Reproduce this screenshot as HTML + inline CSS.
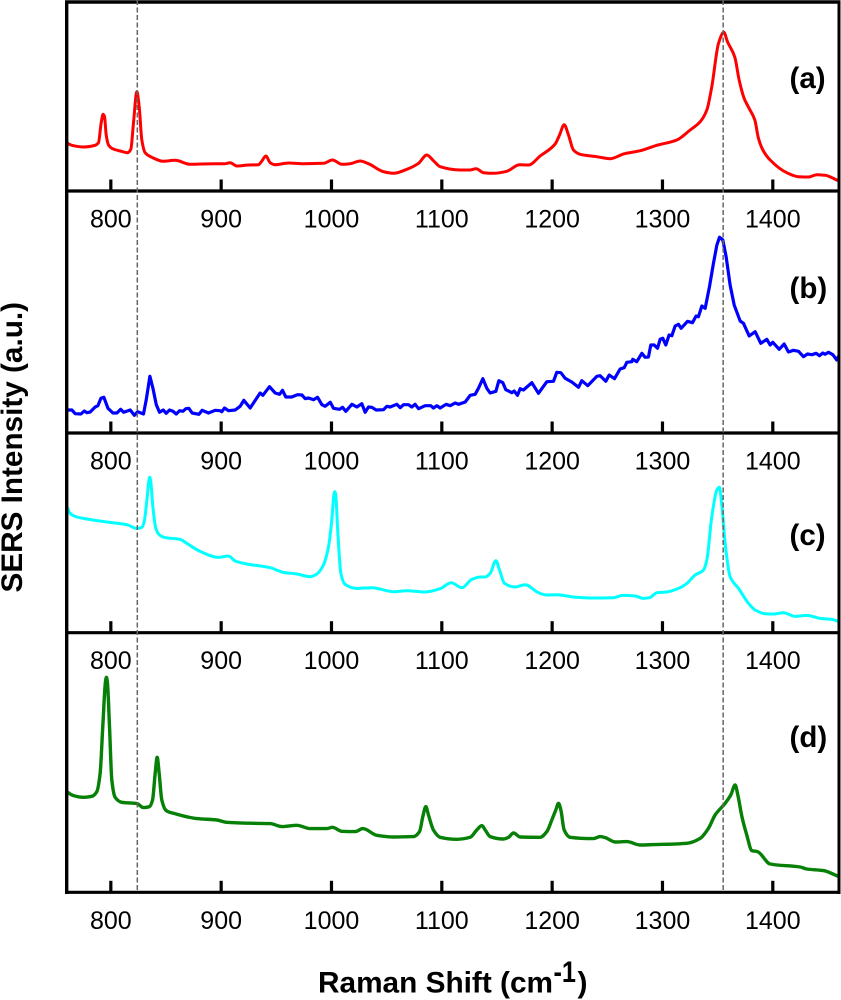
<!DOCTYPE html>
<html lang="en">
<head>
<meta charset="utf-8">
<title>SERS spectra</title>
<style>
html,body{margin:0;padding:0;background:#fff;}
#chart{display:block;width:841px;height:1000px;font-family:"Liberation Sans",Arial,sans-serif;filter:blur(0.3px);}
</style>
</head>
<body>
<svg id="chart" xmlns="http://www.w3.org/2000/svg" width="841" height="1000" viewBox="0 0 841 1000">
<rect x="0" y="0" width="841" height="1000" fill="#fff"/>
<g id="curves"></g>
<g id="frame"></g>
<g id="ticks"></g>
<g id="refs"></g>
<text x="789.5" y="88" font-size="29.5" font-weight="bold" fill="#000">(a)</text>
<text x="789.5" y="298" font-size="29.5" font-weight="bold" fill="#000">(b)</text>
<text x="789.5" y="545" font-size="29.5" font-weight="bold" fill="#000">(c)</text>
<text x="789.5" y="747" font-size="29.5" font-weight="bold" fill="#000">(d)</text>
<text font-weight="bold" fill="#000"><tspan x="318" y="992.5" font-size="29.5" textLength="235" lengthAdjust="spacingAndGlyphs">Raman Shift (cm</tspan><tspan x="553.5" y="982" font-size="30" textLength="22.5" lengthAdjust="spacingAndGlyphs">-1</tspan><tspan x="577.5" y="992.5" font-size="30">)</tspan></text>
<text transform="translate(22,592.5) rotate(-90)" x="0" y="0" font-size="30" font-weight="bold" fill="#000" textLength="290.5" lengthAdjust="spacingAndGlyphs">SERS Intensity (a.u.)</text>
</svg>
<script>
var tickValues = [800, 900, 1000, 1100, 1200, 1300, 1400];
var referenceShifts = [824, 1355];

var shiftA = [760.7,764.7,775.2,785.8,788.8,791.2,793,794.3,795.8,797.9,800.9,808.5,815.1,818.1,820.5,823.6,825.7,828.1,831.1,837.2,847.7,858.3,871.9,893,903.6,908.2,914.2,924.8,933.8,936.9,940.5,944.4,948.9,961,974.6,992.7,1000.9,1009.4,1016.9,1026,1033.5,1047.1,1056.2,1068.3,1078.9,1086.4,1092.4,1098.5,1116.6,1125.7,1131.1,1137.8,1146.8,1158.9,1170.4,1178.6,1189.1,1202.7,1206.7,1210.9,1214.8,1219.3,1225.4,1240.5,1252.6,1264.7,1279.8,1294.9,1313,1325.1,1334.2,1340.2,1344.7,1350.8,1355.6,1358.9,1365.6,1369.5,1374,1378,1383.7,1387,1391,1397.6,1412.7,1423.3,1432.3,1439.9,1447.4,1458.6];
var intensityA = [47.7,45.7,44,45.7,48.3,67.7,76.7,74.3,56,46,42.7,40,38.3,41.7,67.7,99.3,84.3,51,38.3,33.7,29.7,30.7,26.7,27.3,27.3,28.3,25,26,26.3,30,35,28.3,26.3,28,27.3,27.7,31,26.7,27.3,30,27.3,19.3,17.7,21.7,27.7,36,30.3,24.3,21,21,22.3,18.3,17.7,19.7,26.3,26,35,47,56,66.3,56,41,36.7,34.3,32.3,37,40.3,45.7,51,61,69.3,81,104.3,147.7,158.7,149.3,133.7,111,92.7,83.7,71,52.7,41,31,18.3,14.3,14,16.3,15.7,10.7];

var shiftB = [760.7,764.7,767.7,772.9,775.9,778.3,781.3,785.8,788.3,791,793.7,797.4,801.9,805.5,808.9,811.6,817.6,821.3,824.3,829.6,832.1,835.4,838.1,841.2,844.1,847.5,850.2,853.2,856.3,859.3,862.3,865.3,868,870.7,873.7,879.8,882.8,888.5,894.6,899,900.6,903,906.6,912.7,917.2,920.5,926.3,935.3,937.8,943.8,949,952.9,955.6,958.6,964,969.2,973.2,976.2,979.2,983.7,987.4,991.3,994.3,998.9,1001.8,1007.3,1010,1013,1018.5,1023,1027.5,1030.5,1033.5,1036.5,1040.5,1047.1,1050.2,1053.2,1059.2,1062.3,1065.3,1069.8,1072.8,1075.8,1078.9,1084.9,1090,1092.4,1095.5,1098.5,1103.9,1107.6,1112.1,1115.1,1121.2,1125.7,1130.2,1133.2,1137.2,1140.8,1143.8,1149,1151.7,1155.3,1158,1163.5,1165.6,1168.6,1171,1174,1181.6,1187.6,1195.2,1201.2,1204.2,1207.9,1211.8,1217.8,1223.9,1226.9,1232.3,1240.5,1243.5,1248.6,1251.7,1256.5,1261.6,1265.3,1267.7,1272.2,1273.1,1276.7,1281.3,1284.3,1287.3,1289.4,1292.5,1295.5,1297.9,1300.3,1303,1306,1308.5,1311.5,1314.5,1316.9,1322.7,1327.2,1330.5,1332.6,1335.7,1338.7,1342.6,1346.2,1349.3,1351.7,1354.7,1357.7,1361.3,1365,1370.4,1373.4,1378.6,1384,1389.1,1394.6,1397.6,1400,1405.8,1410.3,1414.2,1418.7,1423.3,1427.8,1431.4,1435.4,1439.3,1442.3,1445.3,1447.4,1450.5,1454.4,1458,1459.8];
var intensityB = [23,23,19.3,19,22,20.3,21,26,27.3,34.7,35.7,24.7,20,20,23.7,20.7,23,17.7,21.3,19,33.3,56.7,45,28.3,20.7,23,19.7,23,21.7,19,22.3,21.7,24.3,24.7,20,18.7,22.7,20,22.7,22.3,21.3,25,22.3,23,26.7,32.7,25,40,37.7,46.3,40,38.7,42.7,36,36,38.3,38,34.3,35,33.3,35.7,28.3,26.7,30.7,24.7,23.7,25.7,21.7,28.7,26,29.3,20.7,26,25.7,23,23.3,26.7,26,28.7,25.3,28.3,28.3,26,28.7,24.3,27.3,27.3,25,27.3,25,28.7,27.3,30,28.7,31,37.7,38.7,44.7,54.3,44.7,40,41.7,52.3,50.3,43.3,40.3,42,37.7,44.3,43,50.3,39.7,51.3,51.7,60.7,60.3,54.7,51,45.7,52.3,47.3,56.7,57.3,51.7,58,54.3,64,65.3,70.7,71.3,73.7,71.3,79.7,75.7,76,88,88,84.7,93.7,94.7,88,98,97.3,107,108.7,104.7,111.7,110.3,117,116.3,127,124.7,146.3,169.7,188,195.7,193,176.3,148,128,112,109.7,97,101.3,89.7,93.7,88,90.7,83.7,89,81,82.7,81.7,76.3,79,78.3,79.7,77.3,80,78.7,80.7,78.3,73,77];

var shiftC = [760.7,763.1,769.2,778.2,796.4,814.5,823.6,828.1,830.2,832.7,834.5,835.3,836.1,838.1,840.8,844.1,848.4,862.9,868.9,881,897.6,906.6,912.7,923.3,944.4,956.5,968.6,980.7,986.7,992.7,997.3,1000.3,1002.2,1003,1003.8,1005.8,1008.5,1012.4,1023,1036.6,1056.2,1068.3,1084.9,1098.5,1108.5,1118.1,1127.2,1134.8,1139.3,1143.8,1149,1152.3,1156.8,1166.5,1175.5,1187.6,1195.2,1204.2,1219.3,1234.5,1255.6,1264,1275.2,1282.8,1288.2,1294.9,1304,1314.5,1322.1,1329.6,1337.2,1340.2,1344.7,1349.3,1351.5,1353.8,1356.8,1361.3,1368.9,1378,1384,1393,1400.6,1409.7,1420.3,1430.8,1442.9,1453.5,1459.5];
var intensityC = [125,119.3,115.7,113.7,110.7,108,104.3,105.3,111,132.7,152,155.5,152,126,104.3,97.7,95.3,93.3,89.3,81.3,75.3,76.7,71.7,68.7,65,60.3,58.7,56,58.7,67.7,86,112.7,138,141,138,99.3,59.3,48.3,44.3,45,41,42,40.7,44,50,45,53.3,55.7,55.7,59.3,72,62.7,49.3,45.7,48,40,37.7,38,35.7,34.7,35,37.3,36.7,34.3,35,40,40.7,44.3,49.3,57.7,62.7,72.7,116,142.7,145.5,127.7,89.3,56,44.3,29.3,22.7,19,18.7,20,16.3,17.3,14.3,13.3,11.3];

var shiftD = [760.7,766.2,775.2,782.8,787.3,790.3,792.7,795.2,796,796.8,798.8,800.9,803.9,810,823.6,829.6,835,837.8,840.2,842,843.8,846.2,850.2,856.8,878,896,905,929.3,944.4,955,968.6,980.7,995.8,1000.9,1009.4,1021.5,1028.4,1041.1,1056.2,1074.3,1079.8,1082.8,1085.5,1087.9,1092.4,1098.5,1113.6,1125.7,1131.7,1136.3,1139.3,1143.8,1155.9,1160.4,1165,1171,1189.1,1195.2,1199.7,1203.3,1205.8,1207.9,1210.9,1216.3,1237.5,1243.5,1248.1,1257.1,1267.7,1279.8,1291.9,1322.1,1334.2,1341.7,1347.7,1356.8,1361.9,1365.9,1368.3,1372,1376.4,1381,1386.1,1397.6,1424.8,1430.8,1445.9,1458.6];
var intensityD = [100,96.7,95,96,100.7,119,165.7,211,215,211,165.7,112.3,95,90,88.7,84.7,85.7,92.3,119,135,119,92.3,81.7,79,73.7,72.3,70,69,68.7,65.7,67,63.7,63.7,65,61,60.7,63.7,57,55.3,55.7,60.7,75.7,85.7,77.3,62.3,55,53,55,62.3,66.7,62.3,55.7,53.3,55,59.3,55.3,55,60.7,72.3,82.3,89,82.3,62.3,55,53.7,55.7,54.7,50.3,50.7,47.3,47.7,49,54,64,77.3,89,97.3,107.3,97.3,75.7,57.3,41.7,40.7,28.3,25.3,23.3,21.7,16.3];

var SVGNS = 'http://www.w3.org/2000/svg';
var plotLeft = 66.7, plotRight = 839, plotTop = 2;
var panelBaselines = [191, 433, 632.7, 892.3];
var domainMin = 760, domainMax = 1460;

function xScale(shift) {
  return plotLeft + (shift - domainMin) / (domainMax - domainMin) * (plotRight - plotLeft);
}
function yScale(baseline, intensity) {
  return baseline - intensity;
}
function make(tag, attrs, parent) {
  var el = document.createElementNS(SVGNS, tag);
  for (var k in attrs) { el.setAttribute(k, attrs[k]); }
  parent.appendChild(el);
  return el;
}

var curvesGroup = document.getElementById('curves');
var frameGroup = document.getElementById('frame');
var ticksGroup = document.getElementById('ticks');
var refsGroup = document.getElementById('refs');

// Monotone cubic path through the points (keeps peaks rounded without overshoot)
function smoothPath(xs, ys) {
  var n = xs.length, d = [], m = [], i;
  for (i = 0; i < n - 1; i++) { d.push((ys[i + 1] - ys[i]) / (xs[i + 1] - xs[i])); }
  m.push(d[0]);
  for (i = 1; i < n - 1; i++) {
    if (d[i - 1] * d[i] <= 0) { m.push(0); }
    else {
      var h0 = xs[i] - xs[i - 1], h1 = xs[i + 1] - xs[i];
      m.push(3 * (h0 + h1) / ((2 * h1 + h0) / d[i - 1] + (h1 + 2 * h0) / d[i]));
    }
  }
  m.push(d[n - 2]);
  var s = 'M' + xs[0].toFixed(2) + ' ' + ys[0].toFixed(2);
  for (i = 0; i < n - 1; i++) {
    var h = (xs[i + 1] - xs[i]) / 3;
    s += 'C' + (xs[i] + h).toFixed(2) + ' ' + (ys[i] + m[i] * h).toFixed(2) + ' ' +
      (xs[i + 1] - h).toFixed(2) + ' ' + (ys[i + 1] - m[i + 1] * h).toFixed(2) + ' ' +
      xs[i + 1].toFixed(2) + ' ' + ys[i + 1].toFixed(2);
  }
  return s;
}
// Straight segments for the noisy, angular spectrum
function linearPath(xs, ys) {
  var s = '';
  for (var i = 0; i < xs.length; i++) {
    s += (i ? 'L' : 'M') + xs[i].toFixed(2) + ' ' + ys[i].toFixed(2);
  }
  return s;
}

function drawCurve(shifts, intensities, baseline, color, width, builder, name) {
  var xs = shifts.map(xScale);
  var ys = intensities.map(function (v) { return yScale(baseline, v); });
  var line = make('path', {d: builder(xs, ys), fill: 'none', stroke: color, 'stroke-width': width, 'stroke-linejoin': 'round', 'stroke-linecap': 'round'}, curvesGroup);
  
  
}
drawCurve(shiftA, intensityA, panelBaselines[0], '#ff0000', 3, smoothPath, 'spectrum-a');
drawCurve(shiftB, intensityB, panelBaselines[1], '#0000ff', 3.2, linearPath, 'spectrum-b');
drawCurve(shiftC, intensityC, panelBaselines[2], '#00ffff', 3, smoothPath, 'spectrum-c');
drawCurve(shiftD, intensityD, panelBaselines[3], '#068006', 3.4, smoothPath, 'spectrum-d');

var topSpine = make('line', {x1: plotLeft - 1.7, x2: plotRight + 1.5, y1: plotTop, y2: plotTop, stroke: '#000', 'stroke-width': 3.4}, frameGroup);


var leftSpine = make('line', {x1: plotLeft, x2: plotLeft, y1: plotTop, y2: panelBaselines[3] + 1.7, stroke: '#000', 'stroke-width': 3.4}, frameGroup);


var rightSpine = make('line', {x1: plotRight, x2: plotRight, y1: plotTop, y2: panelBaselines[3] + 1.7, stroke: '#000', 'stroke-width': 3}, frameGroup);



panelBaselines.forEach(function (base) {
  var axis = make('line', {x1: plotLeft, x2: plotRight, y1: base, y2: base, stroke: '#000', 'stroke-width': 3.2}, frameGroup);
  
  
  tickValues.forEach(function (v) {
    var tx = xScale(v);
    var tick = make('line', {x1: tx, x2: tx, y1: base, y2: base - 11.5, stroke: '#000', 'stroke-width': 3.2}, ticksGroup);
    
    
    var label = make('text', {x: tx, y: base + 36.5, 'text-anchor': 'middle', 'font-size': 25, fill: '#000'}, ticksGroup);
    
    
    label.textContent = String(v);
  });
});

referenceShifts.forEach(function (v) {
  var ref = make('line', {x1: xScale(v), x2: xScale(v), y1: 0, y2: panelBaselines[3], stroke: '#666', 'stroke-width': 1.5, 'stroke-dasharray': '5 2.5'}, refsGroup);
  
  
});
</script>
</body>
</html>
